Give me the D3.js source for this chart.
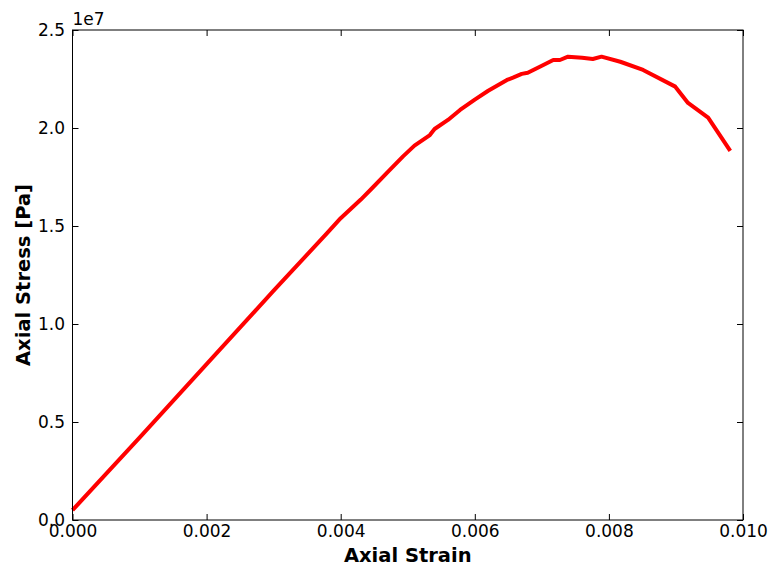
<!DOCTYPE html>
<html>
<head>
<meta charset="utf-8">
<script src="https://cdn.jsdelivr.net/npm/d3@7"></script>
<style>
  body { margin: 0; background: #fff; }
  svg { display: block; font-family: "DejaVu Sans", sans-serif; }
</style>
</head>
<body>
<svg id="chart" width="770" height="572"></svg>
<script>
'use strict';

// strain values (x)
var strain = [0, 0.001, 0.002, 0.003, 0.0038, 0.004, 0.0043, 0.00446, 0.0047, 0.00493,
    0.0051, 0.00533, 0.0054, 0.0056, 0.00578, 0.006, 0.0062, 0.00648, 0.00657, 0.0067,
    0.00679, 0.007, 0.00717, 0.00727, 0.00739, 0.0076, 0.00776, 0.00789, 0.00817, 0.00851,
    0.00899, 0.00918, 0.00948, 0.00981];
// stress in units of 1e7 Pa
var stress = [0.05, 0.42, 0.795, 1.17, 1.465, 1.54, 1.635, 1.69, 1.775, 1.855,
    1.91, 1.964, 1.995, 2.041, 2.092, 2.145, 2.19, 2.245, 2.257, 2.276,
    2.282, 2.318, 2.347, 2.347, 2.364, 2.358, 2.352, 2.364, 2.338, 2.296,
    2.211, 2.128, 2.053, 1.883];
var xTicks = [0, 0.002, 0.004, 0.006, 0.008, 0.010];
var yTicks = [0, 0.5, 1.0, 1.5, 2.0, 2.5];

var margin = {left: 72.5, top: 30, right: 27, bottom: 52};
var svg = d3.select('#chart');
var W = +svg.attr('width'), H = +svg.attr('height');
var w = W - margin.left - margin.right, h = H - margin.top - margin.bottom;

var x = d3.scaleLinear().domain([0, 0.010]).range([0, w]);
var y = d3.scaleLinear().domain([0, 2.5]).range([h, 0]);

var g = svg.append('g').attr('transform', 'translate(' + margin.left + ',' + margin.top + ')');

function styleAxis(sel) {
    sel.select('.domain').remove();
    sel.selectAll('line').attr('stroke', '#000');
    sel.selectAll('text').attr('fill', '#000').style('font-size', '17px').style('font-family', '"DejaVu Sans", sans-serif');
}

g.append('g').attr('transform', 'translate(0,' + h + ')')
    .call(d3.axisBottom(x).tickValues(xTicks).tickSizeInner(-6).tickSizeOuter(0).tickPadding(5).tickFormat(d3.format('.3f')))
    .call(styleAxis);
g.append('g')
    .call(d3.axisTop(x).tickValues(xTicks).tickSizeInner(-6).tickSizeOuter(0).tickFormat(''))
    .call(styleAxis);
g.append('g')
    .call(d3.axisLeft(y).tickValues(yTicks).tickSizeInner(-6).tickSizeOuter(0).tickPadding(7.5).tickFormat(d3.format('.1f')))
    .call(styleAxis);
g.append('g').attr('transform', 'translate(' + w + ',0)')
    .call(d3.axisRight(y).tickValues(yTicks).tickSizeInner(-6).tickSizeOuter(0).tickFormat(''))
    .call(styleAxis);

var line = d3.line()
    .x(function(d, i) { return x(strain[i]); })
    .y(function(d) { return y(d); });

g.append('path')
    .datum(stress)
    .attr('fill', 'none')
    .attr('stroke', '#ff0000')
    .attr('stroke-width', 4)
    .attr('stroke-linejoin', 'round')
    .attr('d', line);

g.append('rect')
    .attr('width', w).attr('height', h)
    .attr('fill', 'none').attr('stroke', '#000').attr('stroke-width', 1);

// offset text
g.append('text')
    .attr('x', 0).attr('y', -5)
    .style('font-size', '17px')
    .text('1e7');

svg.append('text')
    .attr('x', margin.left + w / 2).attr('y', 562)
    .attr('text-anchor', 'middle')
    .style('font-size', '19.5px').style('font-weight', 'bold')
    .text('Axial Strain');

svg.append('text')
    .attr('transform', 'translate(30,' + (margin.top + h / 2) + ') rotate(-90)')
    .attr('text-anchor', 'middle')
    .style('font-size', '19.5px').style('font-weight', 'bold')
    .text('Axial Stress [Pa]');
</script>
</body>
</html>
